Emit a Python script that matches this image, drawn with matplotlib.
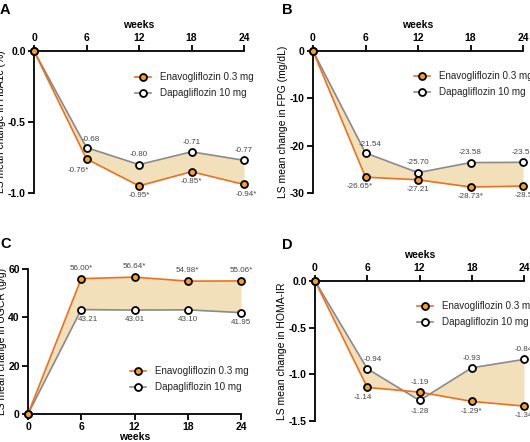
import matplotlib
matplotlib.use("Agg")
import matplotlib.pyplot as plt

plt.rcParams['font.family'] = ['Liberation Sans', 'DejaVu Sans']

weeks = [0, 6, 12, 18, 24]

a_enav = [0, -0.76, -0.95, -0.85, -0.94]
a_dapa = [0, -0.68, -0.80, -0.71, -0.77]
a_enav_lbl = ["", "-0.76*", "-0.95*", "-0.85*", "-0.94*"]
a_dapa_lbl = ["", "-0.68", "-0.80", "-0.71", "-0.77"]

b_enav = [0, -26.65, -27.21, -28.73, -28.54]
b_dapa = [0, -21.54, -25.70, -23.58, -23.52]
b_enav_lbl = ["", "-26.65*", "-27.21", "-28.73*", "-28.54"]
b_dapa_lbl = ["", "-21.54", "-25.70", "-23.58", "-23.52"]

c_enav = [0, 56.00, 56.64, 54.98, 55.06]
c_dapa = [0, 43.21, 43.01, 43.10, 41.95]
c_enav_lbl = ["", "56.00*", "56.64*", "54.98*", "55.06*"]
c_dapa_lbl = ["", "43.21", "43.01", "43.10", "41.95"]

d_enav = [0, -1.14, -1.19, -1.29, -1.34]
d_dapa = [0, -0.94, -1.28, -0.93, -0.84]
d_enav_lbl = ["", "-1.14", "-1.19", "-1.29*", "-1.34"]
d_dapa_lbl = ["", "-0.94", "-1.28", "-0.93", "-0.84"]

ORANGE_LINE = "#EE6F1E"
ORANGE_FILL = "#F4A11F"
GRAY_LINE = "#8A8A8A"
BAND = "#F2E0BA"
TXT = "#444444"

W, H = 530, 442
fig = plt.figure(figsize=(W / 100, H / 100), dpi=100)


def pix_axes(left, right, top, bottom):
    return fig.add_axes([left / W, 1 - bottom / H, (right - left) / W, (bottom - top) / H])


def draw(ax, enav, dapa, enav_lbl, dapa_lbl, ylim, yticks, yticklabels, ylabel,
         top_axis, leg_anchor, lbl_offsets):
    ax.fill_between(weeks, enav, dapa, color=BAND, lw=0, zorder=1)
    ax.plot(weeks, enav, color=ORANGE_LINE, lw=1.2, marker='o', ms=5,
            mfc=ORANGE_FILL, mec='black', mew=1.3, clip_on=False, zorder=4,
            label="Enavogliflozin 0.3 mg")
    ax.plot(weeks, dapa, color=GRAY_LINE, lw=1.2, marker='o', ms=5,
            mfc='white', mec='black', mew=1.3, clip_on=False, zorder=3,
            label="Dapagliflozin 10 mg")
    ax.set_xlim(0, 24)
    ax.set_ylim(*ylim)
    ax.set_xticks(weeks)
    ax.set_yticks(yticks)
    ax.set_yticklabels(yticklabels)
    ax.spines['right'].set_visible(False)
    if top_axis:
        ax.spines['bottom'].set_visible(False)
        ax.xaxis.tick_top()
        ax.xaxis.set_label_position('top')
    else:
        ax.spines['top'].set_visible(False)
    for s in ['left', 'top', 'bottom']:
        ax.spines[s].set_linewidth(1.3)
    ax.tick_params(width=1.3, length=4, labelsize=7.5, pad=2)
    for t in ax.get_xticklabels() + ax.get_yticklabels():
        t.set_fontweight('bold')
    ax.set_xlabel("weeks", fontsize=7.5, fontweight='bold', labelpad=3 if top_axis else 0)
    ax.set_ylabel(ylabel, fontsize=7.5, labelpad=1)
    for i in range(1, 5):
        oe, od = lbl_offsets[i]
        ax.annotate(enav_lbl[i], (weeks[i], enav[i]), xytext=oe, textcoords='offset points',
                    ha='center', va='center', fontsize=5.8, color=TXT, annotation_clip=False)
        ax.annotate(dapa_lbl[i], (weeks[i], dapa[i]), xytext=od, textcoords='offset points',
                    ha='center', va='center', fontsize=5.8, color=TXT, annotation_clip=False)
    leg = ax.legend(loc='upper left', bbox_to_anchor=leg_anchor, frameon=False,
                    fontsize=7.1, handlelength=1.6, handletextpad=0.9,
                    labelspacing=0.65, borderpad=0, borderaxespad=0)
    for t in leg.get_texts():
        t.set_color('#222222')


# Panel A
axA = pix_axes(34, 244, 51, 193)
draw(axA, a_enav, a_dapa, a_enav_lbl, a_dapa_lbl, (-1.0, 0.0), [0.0, -0.5, -1.0],
     ["0.0", "-0.5", "-1.0"], "LS mean change in HbA1c (%)", True,
     (0.481, 0.852),
     {1: ((-6, -8), (3, 6)), 2: ((0, -7), (0, 7)), 3: ((0, -7), (0, 7)), 4: ((2, -7), (0, 7))})

# Panel B
axB = pix_axes(313, 523, 51, 193)
draw(axB, b_enav, b_dapa, b_enav_lbl, b_dapa_lbl, (-30, 0), [0, -10, -20, -30],
     ["0", "-10", "-20", "-30"], "LS mean change in FPG (mg/dL)", True,
     (0.481, 0.859),
     {1: ((-4, -7), (3, 6)), 2: ((0, -7), (0, 7)), 3: ((0, -7), (0, 7)), 4: ((2, -7), (0, 7))})

# Panel C
axC = pix_axes(28, 241, 269, 414)
draw(axC, c_enav, c_dapa, c_enav_lbl, c_dapa_lbl, (0, 60), [0, 20, 40, 60],
     ["0", "20", "40", "60"], "LS mean change in UGCR (g/g)", False,
     (0.479, 0.331),
     {1: ((0, 7.5), (5, -7)), 2: ((0, 7.5), (0, -7)), 3: ((0, 7.5), (0, -7)), 4: ((0, 7.5), (0, -7))})

# Panel D
axD = pix_axes(315, 524, 281, 421)
draw(axD, d_enav, d_dapa, d_enav_lbl, d_dapa_lbl, (-1.5, 0.0), [0.0, -0.5, -1.0, -1.5],
     ["0.0", "-0.5", "-1.0", "-1.5"], "LS mean change in HOMA-IR", True,
     (0.488, 0.857),
     {1: ((-3, -7), (4, 7)), 2: ((0, 7), (0, -8)), 3: ((0, -7), (0, 7)), 4: ((0, -7), (0, 7))})

# Panel letters
for letter, x, y in [("A", 0, 10), ("B", 282, 10), ("C", 0, 244), ("D", 282, 245)]:
    fig.text(x / W, 1 - y / H, letter, fontsize=10.5, fontweight='bold', va='center', ha='left')

fig.savefig("out.png", dpi=100)
